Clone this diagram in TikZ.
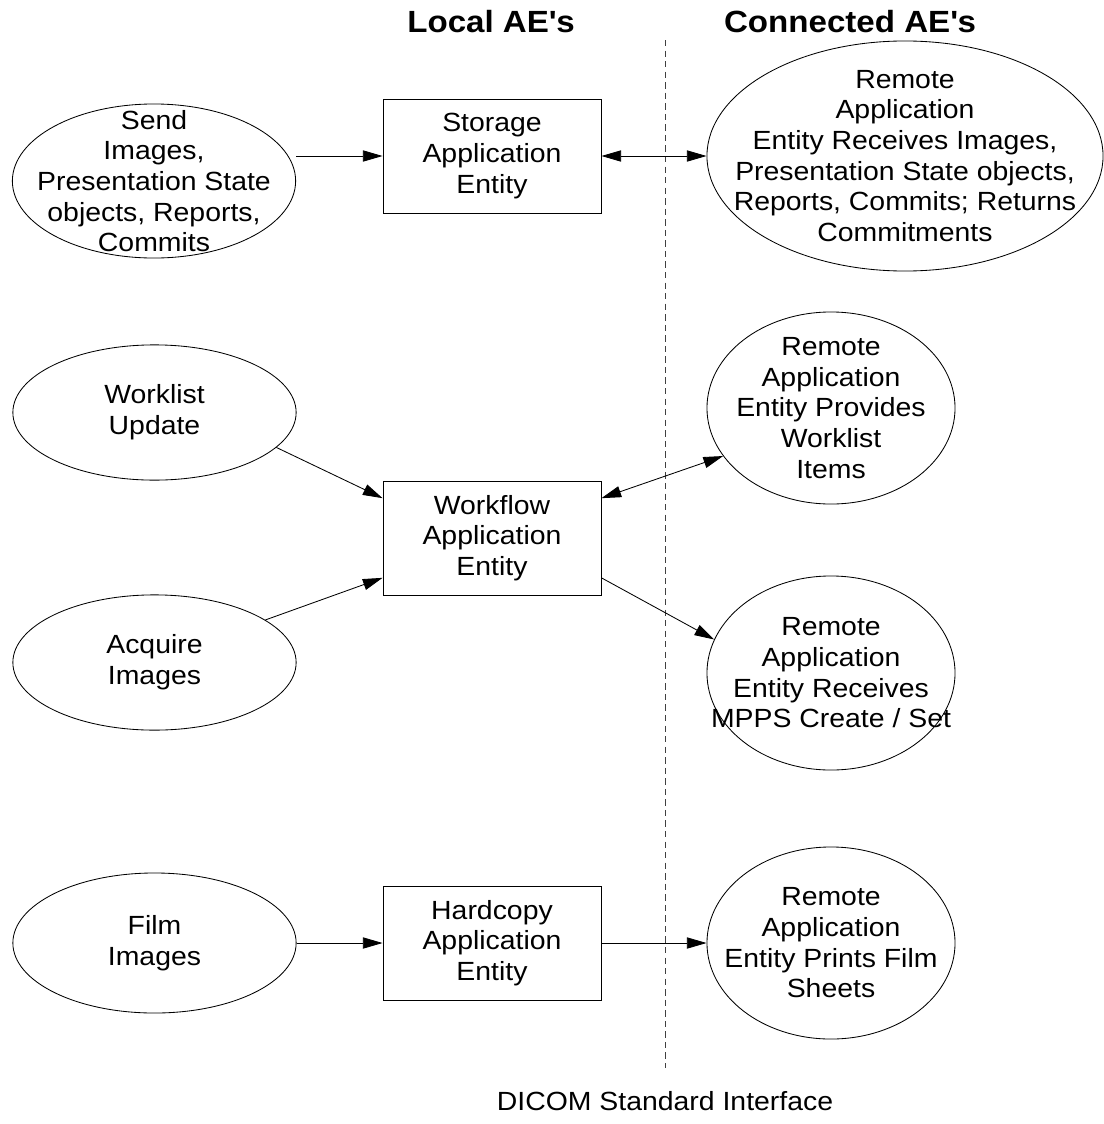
\documentclass[tikz,border=0pt]{standalone}
\usepackage{fontspec}
\setmainfont{Liberation Sans}[FakeStretch=1.08]
\usetikzlibrary{shapes.geometric}
\usetikzlibrary{arrows.meta}

\newcommand{\aefont}{\fontsize{18.7}{21.8}\selectfont}
\newcommand{\headfont}{\fontsize{21.8}{26}\selectfont\bfseries}

\begin{document}
\begin{tikzpicture}[x=0.025cm,y=-0.025cm,
    line width=0.6pt,
    >={Triangle[length=14pt,width=8pt]},
    ent/.style={draw,rectangle,minimum width=5.45cm,minimum height=2.85cm,
        align=center,font=\aefont},
    task/.style={draw,ellipse,inner sep=-1.5cm,align=center,font=\aefont},
    ]
    \useasboundingbox (0,0) rectangle (1104,1124);

    % column titles and the interface line
    \node[font=\headfont,anchor=base] (local) at (491,32) {Local AE\textquotesingle s};
    \node[font=\headfont,anchor=base] (conn) at (850,32) {Connected AE\textquotesingle s};
    \coordinate (iftop) at (665,40);
    \coordinate (ifbot) at (665,1068);
    \draw[black!75,dash pattern=on 4.5pt off 3pt] (iftop) -- (ifbot);
    \node[font=\aefont,anchor=base] (iface) at (665,1110) {DICOM Standard Interface};

    % local real-world activities
    \node[task,minimum width=7.08cm,minimum height=3.85cm] (send) at (154,181)
        {Send\\Images,\\Presentation State\\objects, Reports,\\Commits};
    \node[task,minimum width=7.08cm,minimum height=3.38cm] (wlupd) at (154.5,412.5)
        {Worklist\\Update};
    \node[task,minimum width=7.08cm,minimum height=3.38cm] (acq) at (154.5,662.5)
        {Acquire\\Images};
    \node[task,minimum width=7.08cm,minimum height=3.5cm] (film) at (154.5,943)
        {Film\\Images};

    % local application entities
    \node[ent] (stor) at (492,156) {Storage\\Application\\Entity};
    \node[ent] (wf) at (492,538) {Workflow\\Application\\Entity};
    \node[ent] (hc) at (492,943) {Hardcopy\\Application\\Entity};

    % remote application entities
    \node[task,minimum width=9.9cm,minimum height=5.75cm] (rsto) at (905,156)
        {Remote\\Application\\Entity Receives Images,\\Presentation State objects,\\Reports, Commits; Returns\\Commitments};
    \node[task,minimum width=6.2cm,minimum height=4.8cm] (rwl) at (831,408)
        {Remote\\Application\\Entity Provides\\Worklist\\Items};
    \node[task,minimum width=6.2cm,minimum height=4.85cm] (mpps) at (831,673)
        {Remote\\Application\\Entity Receives\\MPPS Create / Set};
    \node[task,minimum width=6.2cm,minimum height=4.8cm] (prn) at (831,943)
        {Remote\\Application\\Entity Prints Film\\Sheets};

    % associations
    \draw[->] (send.east |- stor.west) -- (stor.west);
    \draw[<->] (stor.east) -- (rsto.west);
    \draw[->] (wlupd.-16) -- (wf.160);
    \draw[->] (acq.21) -- (wf.200);
    \draw[<->] (wf.20) -- (rwl.204);
    \draw[->] (wf.-20) -- (mpps.164);
    \draw[->] (film.east) -- (hc.west);
    \draw[->] (hc.east) -- (prn.west);
\end{tikzpicture}
\end{document}
